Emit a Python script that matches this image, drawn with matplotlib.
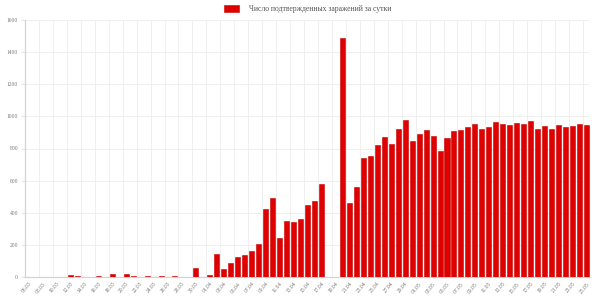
import matplotlib
matplotlib.use('Agg')
import matplotlib.pyplot as plt
import pandas as pd

plt.rcParams['font.family'] = ['Liberation Serif', 'DejaVu Serif']

# Dates 06.03 - 25.05
days = pd.date_range('2020-03-06', '2020-05-25').strftime('%d.%m').tolist()

# Daily confirmed cases (None = no data)
cases = [0, 0, 0, 0, 3, 0, 12, 7, 0, 0,
         9, 0, 16, 0, 18, 8, 0, 6, 0, 6,
         0, 8, 0, 0, 58, 0, 12, 141, 48, 87,
         123, 137, 162, 204, 422, 494, 245, 351, 341, 361,
         449, 476, 578, None, None, 1485, 461, 561, 742, 752,
         819, 873, 827, 921, 975, 848, 892, 913, 877, 786,
         863, 908, 914, 933, 952, 923, 933, 967, 952, 948,
         958, 952, 969, 923, 938, 919, 948, 933, 942, 954,
         948]

label = 'Число подтвержденных заражений за сутки'

fig = plt.figure(figsize=(6, 2.97), dpi=100)
ax = fig.add_axes([0.0417, 0.0673, 0.9416, 0.8654])

xs = [i for i, v in enumerate(cases) if v is not None]
hs = [v for v in cases if v is not None]
ax.bar(xs, hs, width=0.72, color='#e00000', edgecolor='#c40000',
       linewidth=0.4, label=label, zorder=3)

ax.set_xlim(-0.5, len(days) - 0.5)
ax.set_ylim(0, 1600)
ax.set_yticks(range(0, 1601, 200))
ax.set_yticklabels([str(v) for v in range(0, 1601, 200)], fontsize=4, color='#777777')

ax.set_xticks(range(0, len(days), 2))
ax.set_xticklabels(days[::2], rotation=50, ha='right', va='top',
                   rotation_mode='anchor', fontsize=4, color='#777777')
ax.set_xticks([i - 0.5 for i in range(0, len(days), 2)] + [len(days) - 0.5], minor=True)

ax.grid(which='minor', axis='x', color='#ececec', lw=0.6, zorder=0)
ax.grid(which='major', axis='y', color='#ececec', lw=0.6, zorder=0)
ax.tick_params(axis='x', which='both', length=0, pad=3)
ax.tick_params(axis='y', length=3, color='#e6e6e6', pad=2)

for s in ['top', 'right']:
    ax.spines[s].set_visible(False)
for s in ['left', 'bottom']:
    ax.spines[s].set_color('#d4d4d4')
    ax.spines[s].set_linewidth(0.9)

ax.legend(loc='lower center', bbox_to_anchor=(0.5, 1.015), frameon=False,
          prop={'size': 5.5}, handlelength=2.0, handleheight=1.0,
          handletextpad=1.2, borderaxespad=0, labelcolor='#555555')

fig.savefig('out.png', dpi=100)
